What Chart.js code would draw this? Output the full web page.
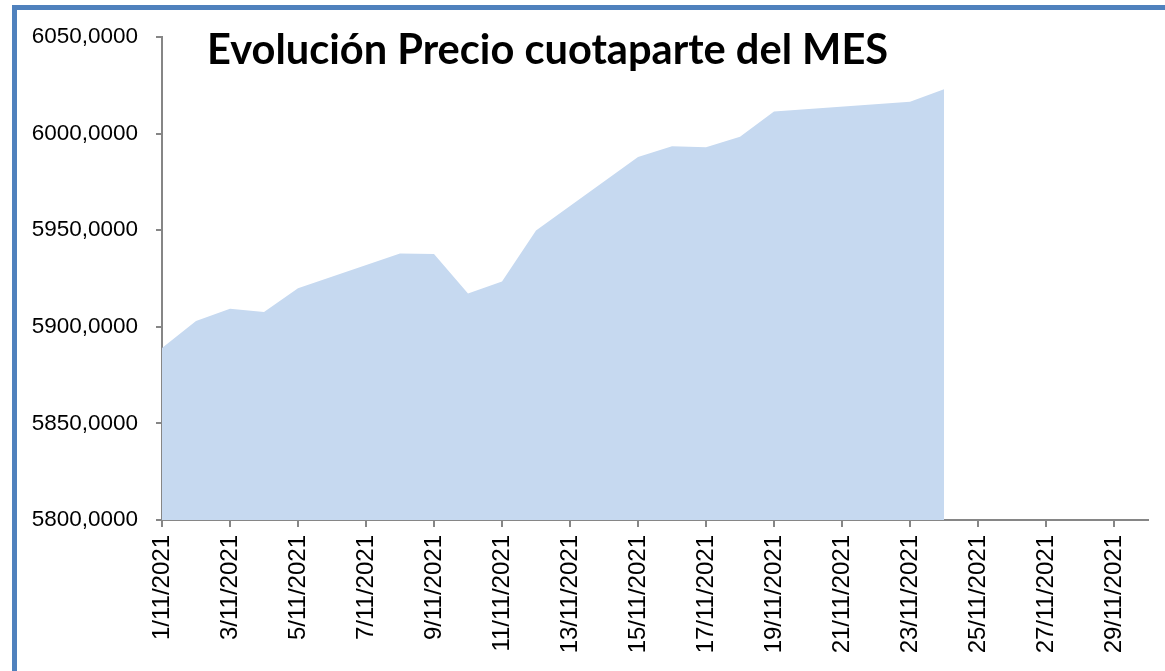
<!DOCTYPE html>
<html>
<head>
<meta charset="utf-8">
<script src="https://cdn.jsdelivr.net/npm/chart.js@4/dist/chart.umd.min.js"></script>
<style>
  html, body { margin: 0; padding: 0; background: #fff; overflow: hidden; }
  #wrap { position: relative; width: 1165px; height: 671px; overflow: hidden; }
  #frame { position: absolute; left: 12px; top: 5px; width: 1300px; height: 800px;
           border-top: 5px solid #4F81BD; border-left: 5px solid #4F81BD; }
  #chartBox { position: absolute; left: 0; top: 0; width: 1165px; height: 671px; }
  #titulo { position: absolute; left: 207px; top: 28px; font-family: Lato, "Open Sans", sans-serif;
            font-weight: bold; font-size: 41.6px; line-height: 1; color: #000; white-space: nowrap; }
</style>
</head>
<body>
<div id="wrap">
  <div id="frame"></div>
  <div id="chartBox"><canvas id="myChart" width="1165" height="671"></canvas></div>
  <div id="titulo">Evolución Precio cuotaparte del MES</div>
</div>
<script>
// dias del mes (noviembre 2021)
const fechas = [];
for (let d = 1; d <= 30; d++) fechas.push(d + '/11/2021');

// precio de la cuotaparte; null = fin de semana / feriado / sin dato
const precios = [
  5889.0, 5903.0, 5909.4, 5907.7, 5920.0, null, null, 5938.0, 5937.7, 5917.3,
  5923.5, 5949.8, null, null, 5987.9, 5993.4, 5992.9, 5998.4, 6011.5, null,
  null, null, 6016.5, 6022.9, null, null, null, null, null, null
];

const yMin = 5800;
const yMax = 6050;
const yPaso = 50;

const ctx = document.getElementById('myChart').getContext('2d');

const grafico = new Chart(ctx, {
  type: 'line',
  data: {
    labels: fechas,
    datasets: [{
      label: 'Precio cuotaparte',
      data: precios,
      fill: 'start',
      spanGaps: true,
      borderWidth: 0,
      borderColor: 'rgba(0,0,0,0)',
      backgroundColor: '#C6D9F0',
      pointRadius: 0,
      tension: 0
    }]
  },
  options: {
    responsive: false,
    animation: false,
    layout: { padding: { left: 0, top: 37, right: 17, bottom: 0 } },
    plugins: { legend: { display: false }, tooltip: { enabled: false }, title: { display: false } },
    scales: {
      x: {
        offset: false,
        afterFit: (s) => { s.height = 151; },
        grid: { drawOnChartArea: false, drawTicks: true, tickLength: 7, color: '#868686', lineWidth: 2 },
        border: { display: true, color: '#868686', width: 2 },
        ticks: {
          autoSkip: false,
          minRotation: 90,
          maxRotation: 90,
          padding: 8,
          color: '#000',
          font: { family: '"Liberation Sans", Arial, sans-serif', size: 24 },
          callback: function (val, idx) { return idx % 2 === 0 ? fechas[idx] : null; }
        }
      },
      y: {
        min: yMin,
        max: yMax,
        afterFit: (s) => { s.width = 162; },
        grid: { drawOnChartArea: false, drawTicks: true, tickLength: 6, color: '#868686', lineWidth: 2 },
        border: { display: true, color: '#868686', width: 2 },
        ticks: {
          stepSize: yPaso,
          padding: 18,
          color: '#000',
          font: { family: '"Liberation Sans", Arial, sans-serif', size: 22.5 },
          callback: (v) => v.toFixed(4).replace('.', ',')
        }
      }
    }
  }
});
</script>
</body>
</html>
